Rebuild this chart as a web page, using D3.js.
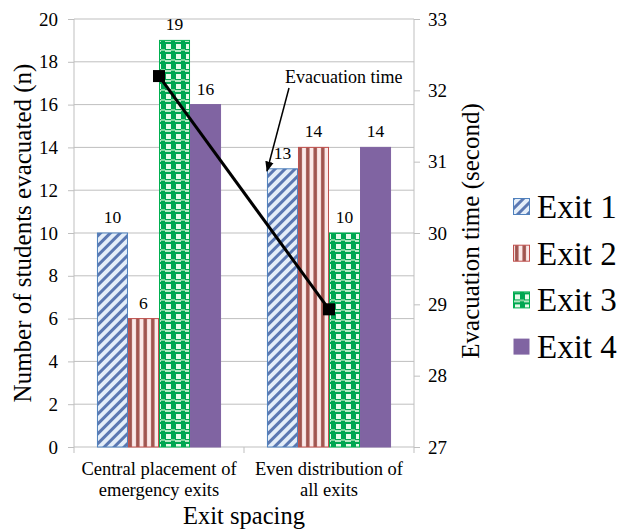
<!DOCTYPE html>
<html>
<head>
<meta charset="utf-8">
<script src="https://cdn.jsdelivr.net/npm/d3@7.9.0/dist/d3.min.js"></script>
<style>
  body { margin: 0; background: #fff; }
</style>
</head>
<body>
<svg id="chart" width="620" height="531" font-family="Liberation Serif"></svg>
<script>
// data
const categories = ['Central placement of|emergency exits', 'Even distribution of|all exits'];
const exits = ['Exit 1', 'Exit 2', 'Exit 3', 'Exit 4'];
const students = [
  [10, 6, 19, 16],
  [13, 14, 10, 14]
];
const evacTime = [32.2, 28.93];
const leftTicks = [0, 2, 4, 6, 8, 10, 12, 14, 16, 18, 20];
const rightTicks = [27, 28, 29, 30, 31, 32, 33];

const svg = d3.select('#chart');
const serif = 'Liberation Serif';
const plotL = 74, plotR = 414, plotT = 19, plotB = 447;
const grid = '#bfbfbf';

/*patterns for the bars*/
const defs = svg.append('defs');

let p1 = defs.append('pattern').attr('id', 'pat1').attr('patternUnits', 'userSpaceOnUse')
  .attr('width', 7).attr('height', 7).attr('patternTransform', 'rotate(45)');
p1.append('rect').attr('width', 7).attr('height', 7).attr('fill', '#e4eef9');
p1.append('rect').attr('width', 3).attr('height', 7).attr('fill', '#5b78b2');

let p2 = defs.append('pattern').attr('id', 'pat2').attr('patternUnits', 'userSpaceOnUse')
  .attr('width', 7.5).attr('height', 8);
p2.append('rect').attr('width', 7.5).attr('height', 8).attr('fill', '#fbeaea');
p2.append('rect').attr('x', 2).attr('width', 3.5).attr('height', 8).attr('fill', '#a0544f');

let p3 = defs.append('pattern').attr('id', 'pat3').attr('patternUnits', 'userSpaceOnUse')
  .attr('width', 10).attr('height', 10).attr('x', 1).attr('y', 3);
p3.append('rect').attr('width', 10).attr('height', 10).attr('fill', '#00a651');
p3.append('rect').attr('x', 1).attr('y', 1).attr('width', 5).attr('height', 5).attr('fill', '#e8faea');
p3.append('rect').attr('x', 6).attr('y', 6).attr('width', 4).attr('height', 2).attr('fill', '#7fd39c');
p3.append('rect').attr('x', 0).attr('y', 7).attr('width', 6).attr('height', 2).attr('fill', '#b4e8c2');

const fills = ['url(#pat1)', 'url(#pat2)', 'url(#pat3)', '#8064a2'];
const strokes = ['#4f81bd', '#c0504d', '#00b050', '#8064a2'];

/*scales*/
const x = d3.scaleBand().domain(categories).range([plotL, plotR]);
const xInner = d3.scaleBand().domain(exits).range([0, x.bandwidth()]).paddingOuter(0.74);
const y = d3.scaleLinear().domain([0, 20]).range([plotB, plotT]);
const y2 = d3.scaleLinear().domain([27, 33]).range([plotB, plotT]);

/*grid lines*/
svg.append('g').selectAll('line').data(leftTicks.filter(d => d > 0)).join('line')
  .attr('x1', plotL).attr('x2', plotR)
  .attr('y1', d => y(d)).attr('y2', d => y(d))
  .attr('stroke', grid).attr('stroke-width', 1);

/*axes*/
const axL = svg.append('g').attr('transform', `translate(${plotL},0)`)
  .call(d3.axisLeft(y).tickValues(leftTicks).tickSize(6).tickPadding(10));
const axR = svg.append('g').attr('transform', `translate(${plotR},0)`)
  .call(d3.axisRight(y2).tickValues(rightTicks).tickFormat(d3.format('d')).tickSize(6).tickPadding(8));
[axL, axR].forEach(a => {
  a.attr('font-family', serif).attr('font-size', 19);
  a.select('.domain').attr('stroke', grid).attr('d', `M0,${plotT}V${plotB}`);
  a.selectAll('.tick line').attr('stroke', grid);
  a.selectAll('.tick text').attr('fill', '#000');
});

const axB = svg.append('g').attr('transform', `translate(0,${plotB})`);
axB.append('line').attr('x1', plotL).attr('x2', plotR).attr('stroke', grid);
axB.selectAll('line.tk').data([plotL, plotL + x.bandwidth(), plotR]).join('line')
  .attr('class', 'tk').attr('x1', d => d).attr('x2', d => d).attr('y1', 0).attr('y2', 6)
  .attr('stroke', grid);

/*category labels*/
categories.forEach(c => {
  const t = svg.append('text').attr('text-anchor', 'middle').attr('font-size', 18.5);
  c.split('|').forEach((line, i) => {
    t.append('tspan').attr('x', x(c) + x.bandwidth() / 2).attr('y', 475 + i * 21).text(line);
  });
});

/*bars*/
categories.forEach((c, ci) => {
  const g = svg.append('g').attr('transform', `translate(${x(c)},0)`);
  g.selectAll('rect').data(students[ci]).join('rect')
    .attr('x', (d, i) => xInner(exits[i]) + 0.5)
    .attr('y', d => y(d))
    .attr('width', xInner.bandwidth() - 1)
    .attr('height', d => plotB - y(d))
    .attr('fill', (d, i) => fills[i])
    .attr('stroke', (d, i) => strokes[i])
    .attr('stroke-width', 1);
  g.selectAll('text').data(students[ci]).join('text')
    .attr('x', (d, i) => xInner(exits[i]) + xInner.bandwidth() / 2)
    .attr('y', d => y(d) - 10)
    .attr('text-anchor', 'middle').attr('font-size', 17.5)
    .text(d => d);
});

/*evacuation time line*/
const linePts = categories.map((c, i) => [x(c) + x.bandwidth() / 2, y2(evacTime[i])]);
svg.append('path').attr('d', d3.line()(linePts))
  .attr('fill', 'none').attr('stroke', '#000').attr('stroke-width', 3);
svg.selectAll('rect.mk').data(linePts).join('rect')
  .attr('class', 'mk')
  .attr('x', d => d[0] - 6).attr('y', d => d[1] - 6)
  .attr('width', 12).attr('height', 12).attr('fill', '#000');

/*annotation*/
defs.append('marker').attr('id', 'arr').attr('viewBox', '0 0 10 10')
  .attr('refX', 9).attr('refY', 5).attr('markerWidth', 7).attr('markerHeight', 7)
  .attr('orient', 'auto')
  .append('path').attr('d', 'M0,1L10,5L0,9Z').attr('fill', '#000');
svg.append('text').attr('x', 285).attr('y', 83).attr('font-size', 18).text('Evacuation time');
svg.append('line').attr('x1', 289).attr('y1', 88).attr('x2', 267).attr('y2', 171)
  .attr('stroke', '#000').attr('stroke-width', 1.5).attr('marker-end', 'url(#arr)');

/*axis titles*/
svg.append('text').attr('transform', `translate(31,233) rotate(-90)`)
  .attr('text-anchor', 'middle').attr('font-size', 25).text('Number of students evacuated (n)');
svg.append('text').attr('transform', `translate(479,231) rotate(-90)`)
  .attr('text-anchor', 'middle').attr('font-size', 25).text('Evacuation time (second)');
svg.append('text').attr('x', (plotL + plotR) / 2).attr('y', 524)
  .attr('text-anchor', 'middle').attr('font-size', 24.5).text('Exit spacing');

/*legend*/
const leg = svg.append('g').selectAll('g').data(exits).join('g')
  .attr('transform', (d, i) => `translate(513,${207 + i * 46.7})`);
leg.append('rect').attr('x', 0.5).attr('y', -8.5).attr('width', 16).attr('height', 16)
  .attr('fill', (d, i) => fills[i]).attr('stroke', (d, i) => i === 3 ? 'none' : strokes[i]);
leg.append('text').attr('x', 24).attr('y', 11).attr('font-size', 33).text(d => d);

svg.selectAll('text').attr('font-family', serif).attr('fill', '#000');
</script>
</body>
</html>
